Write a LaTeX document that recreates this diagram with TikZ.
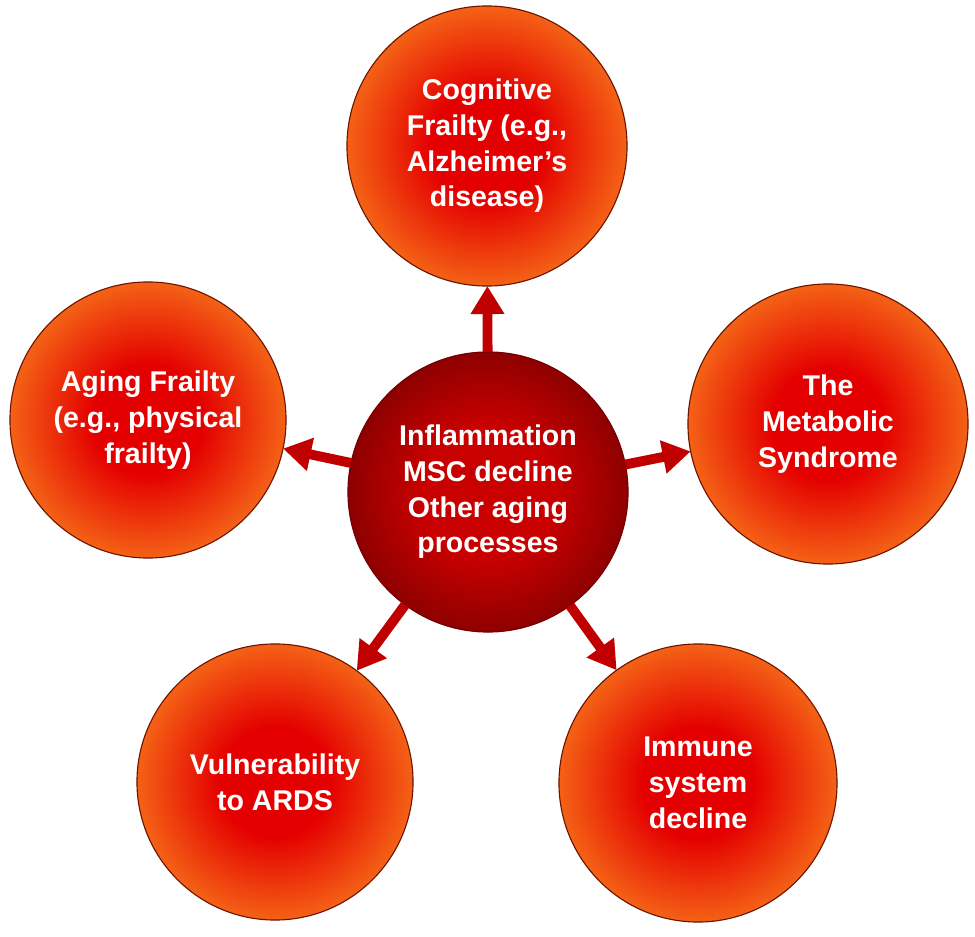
\documentclass[tikz,border=0pt]{standalone}
\usepackage{fontspec}
\setmainfont{Liberation Sans}
\usetikzlibrary{arrows.meta}
\definecolor{petalred}{RGB}{228,0,0}
\definecolor{petalorange}{RGB}{244,98,22}
\definecolor{rimdark}{RGB}{110,20,0}
\definecolor{hubin}{RGB}{200,0,0}
\definecolor{hubout}{RGB}{142,0,0}
\definecolor{arrowred}{RGB}{192,0,0}
\pgfdeclareradialshading{petalshade}{\pgfpoint{0bp}{0bp}}{color(0bp)=(petalred); color(10bp)=(petalred); color(25bp)=(petalorange); color(50bp)=(petalorange)}
\pgfdeclareradialshading{hubshade}{\pgfpoint{0bp}{0bp}}{color(0bp)=(hubin); color(12bp)=(hubin); color(25bp)=(hubout); color(50bp)=(hubout)}
\tikzset{
  petal/.style={circle, minimum size=7cm, inner sep=0pt, outer sep=0pt,
    shading=petalshade, draw=rimdark, line width=0.8pt, text=white,
    align=center, font=\bfseries\fontsize{20.3}{25.4}\selectfont},
  hub/.style={petal, shading=hubshade, draw=hubout!80!black},
  link/.style={draw=arrowred, line width=7pt, -{Triangle[width=0.8cm,length=0.7cm,fill=arrowred]}}
}
\begin{document}
\begin{tikzpicture}[x=0.025cm,y=-0.025cm]
\useasboundingbox (0,0) rectangle (975,937);
\node[petal] (cog) at (487,146) {Cognitive\\Frailty (e.g.,\\Alzheimer’s\\disease)};
\node[petal, minimum size=6.9cm] (age) at (148,420) {Aging Frailty\\(e.g., physical\\frailty)};
\node[petal] (met) at (828,424) {The\\Metabolic\\Syndrome};
\node[petal, minimum size=6.9cm] (ards) at (275,782) {Vulnerability\\to ARDS};
\node[petal, minimum size=6.95cm] (imm) at (698,783) {Immune\\system\\decline};
\node[hub] (hub) at (488,492) {Inflammation\\MSC decline\\Other aging\\processes};
\draw[link] (hub) -- (cog);
\draw[link] (hub) -- (age);
\draw[link] (hub) -- (met);
\draw[link] (hub) -- (ards);
\draw[link] (hub) -- (imm);
\end{tikzpicture}
\end{document}
